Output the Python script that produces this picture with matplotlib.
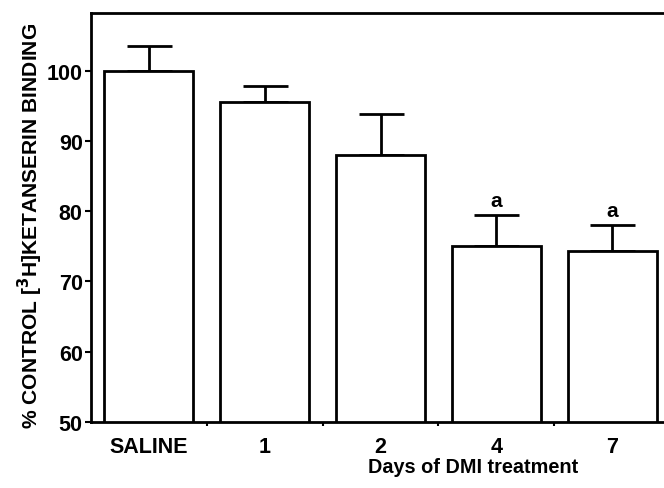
import matplotlib
matplotlib.use("Agg")
import matplotlib.pyplot as plt
import numpy as np

categories = ["SALINE", "1", "2", "4", "7"]
values = [100.0, 95.5, 88.0, 75.0, 74.4]
errors = [3.5, 2.3, 5.8, 4.5, 3.6]
annotations = ["", "", "", "a", "a"]

plt.rcParams['font.family'] = ['Liberation Sans', 'DejaVu Sans']

W, H = 664, 489
fig = plt.figure(figsize=(W / 100, H / 100), dpi=100)
left, right, top, bottom = 91, 670, 14, 423
ax = fig.add_axes([left / W, (H - bottom) / H, (right - left) / W, (bottom - top) / H])

x = np.arange(len(categories))
ax.bar(x, values, width=0.77, color="white", edgecolor="black", linewidth=2, zorder=2)
ax.errorbar(x, values, yerr=[np.zeros(len(errors)), errors], fmt="none",
            ecolor="black", elinewidth=2, capsize=16.2, capthick=2, zorder=1)
for xi, v, e, a in zip(x, values, errors, annotations):
    if a:
        ax.text(xi, v + e + 0.7, a, ha="center", va="bottom", fontsize=15, fontweight="bold")

ax.set_xlim(-0.5, 4.5)
ax.set_ylim(50, 108.2)
ax.set_yticks([50, 60, 70, 80, 90, 100])
ax.set_yticklabels(["50", "60", "70", "80", "90", "100"], fontsize=15.5, fontweight="bold")
ax.set_xticks(x)
ax.set_xticklabels(categories, fontsize=15.5, fontweight="bold")
ax.tick_params(axis="x", length=0, pad=10)
ax.tick_params(axis="y", length=4, width=1.5, pad=2)
ax.set_xticks(np.arange(0.5, 4.5, 1.0), minor=True)
ax.tick_params(axis="x", which="minor", length=3, width=1.5, direction="out")
for s in ax.spines.values():
    s.set_linewidth(2)

fig.text(30.5 / W, 1 - 226 / H, "% CONTROL [$^{\\mathbf{3}}$H]KETANSERIN BINDING", rotation=90,
         ha="center", va="center", fontsize=15.1, fontweight="bold")
fig.text(473 / W, 1 - 468 / H, "Days of DMI treatment", ha="center", va="center", fontsize=14.3, fontweight="bold")

fig.savefig("out.png", dpi=100)
